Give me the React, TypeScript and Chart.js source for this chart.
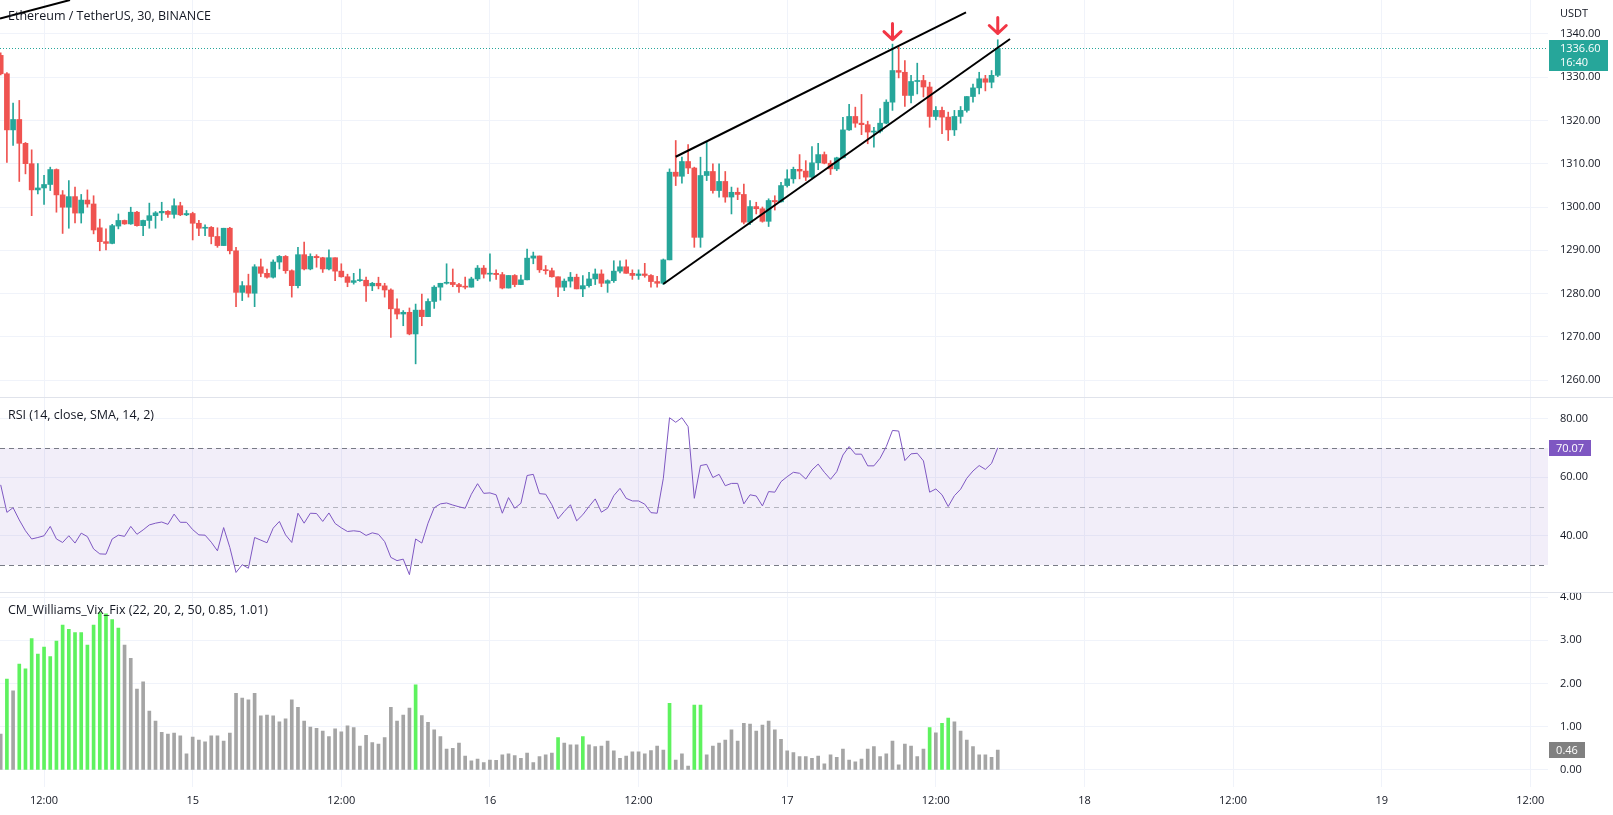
import React, { useEffect, useRef } from "react";
import { Chart, registerables } from "chart.js";

Chart.register(...registerables);

const FONT = "'Open Sans', 'Noto Sans', sans-serif";
const TEXT = "#131722";
const GRID = "#f0f3fa";
const SEP = "#e0e3eb";
const UP = "#26a69a";
const DOWN = "#ef5350";
const RSI_COLOR = "#7e57c2";
const VIX_ON = "#5ef25e";
const VIX_OFF = "#a5a5a5";
const ARROW_COLOR = "#f23645";

const TITLE = "Ethereum / TetherUS, 30, BINANCE";
const RSI_TITLE = "RSI (14, close, SMA, 14, 2)";
const VIX_TITLE = "CM_Williams_Vix_Fix (22, 20, 2, 50, 0.85, 1.01)";
const CURRENCY = "USDT";
const COUNTDOWN = "16:40";

// 30-minute bars; bar index 0 = 14th 12:00
const FIRST_BAR = -7;

const opens = [
  1335.0, 1330.75, 1317.8, 1320.2, 1314.7, 1310.0, 1303.95, 1304.4, 1305.2, 1308.65,
  1302.8, 1299.95, 1302.4, 1298.6, 1301.6, 1300.7, 1295.2, 1292.0, 1291.6, 1295.6,
  1296.9, 1296.1, 1298.8, 1295.7, 1296.9, 1298.0, 1298.65, 1299.0, 1298.3, 1300.3,
  1298.2, 1298.5, 1296.25, 1295.1, 1295.3, 1293.2, 1291.1, 1295.1, 1289.9, 1280.3,
  1281.85, 1280.1, 1286.2, 1284.7, 1283.8, 1287.3, 1288.6, 1285.3, 1281.85, 1289.0,
  1285.7, 1288.6, 1288.3, 1285.7, 1288.3, 1285.2, 1283.9, 1282.6, 1283.0, 1283.1,
  1281.8, 1282.4, 1281.8, 1280.85, 1276.5, 1275.3, 1275.7, 1270.7, 1276.2, 1274.7,
  1278.2, 1281.5, 1282.4, 1282.6, 1282.1, 1281.6, 1281.5, 1283.4, 1285.9, 1284.5,
  1284.7, 1284.4, 1281.3, 1284.2, 1282.1, 1283.2, 1288.2, 1288.7, 1285.5, 1285.3,
  1283.9, 1281.5, 1282.9, 1283.8, 1281.1, 1281.85, 1283.4, 1284.55, 1282.4, 1283.0,
  1285.2, 1286.2, 1284.7, 1284.2, 1284.55, 1284.2, 1282.8, 1282.4, 1287.8, 1308.04,
  1307.1, 1310.5, 1309.0, 1293.0, 1307.27, 1308.2, 1303.8, 1305.9, 1302.3, 1303.4,
  1302.9, 1296.5, 1300.1, 1299.6, 1296.7, 1301.5, 1301.2, 1304.95, 1306.5, 1308.7,
  1308.3, 1306.9, 1310.2, 1312.1, 1310.1, 1308.8, 1311.35, 1317.8, 1320.9, 1319.35,
  1319.0, 1317.3, 1317.5, 1319.35, 1324.2, 1331.5, 1331.1, 1325.75, 1328.97, 1329.2,
  1327.7, 1320.9, 1322.3, 1320.75, 1317.8, 1320.9, 1322.3, 1325.5, 1327.5, 1329.6,
  1328.8, 1330.4,
];

const highs = [
  1335.6, 1331.0, 1324.0, 1324.6, 1314.9, 1313.2, 1310.0, 1307.3, 1309.2, 1308.8,
  1303.8, 1306.1, 1304.6, 1302.9, 1303.95, 1302.6, 1297.2, 1294.95, 1296.0, 1298.4,
  1297.0, 1299.95, 1299.0, 1297.0, 1300.9, 1298.95, 1301.1, 1299.2, 1301.9, 1301.1,
  1299.2, 1298.8, 1296.9, 1295.9, 1295.5, 1295.2, 1295.1, 1295.3, 1290.7, 1282.8,
  1284.5, 1286.7, 1288.0, 1285.7, 1287.8, 1288.8, 1288.8, 1285.5, 1290.7, 1291.9,
  1289.2, 1289.0, 1288.4, 1290.1, 1288.3, 1286.9, 1284.5, 1284.7, 1285.7, 1283.8,
  1282.6, 1283.8, 1282.4, 1281.1, 1278.8, 1276.1, 1276.7, 1277.6, 1279.9, 1278.8,
  1281.85, 1282.4, 1286.9, 1285.7, 1282.4, 1283.8, 1283.8, 1286.5, 1286.5, 1289.2,
  1285.5, 1284.9, 1284.2, 1284.4, 1284.3, 1290.3, 1289.6, 1288.7, 1286.5, 1285.9,
  1283.9, 1283.4, 1284.9, 1284.5, 1284.2, 1284.9, 1285.7, 1285.5, 1283.2, 1287.6,
  1287.6, 1287.8, 1285.5, 1285.5, 1287.0, 1284.4, 1284.0, 1288.0, 1308.8, 1315.35,
  1311.5, 1314.4, 1309.2, 1311.5, 1314.97, 1309.96, 1309.96, 1308.2, 1304.6, 1304.4,
  1305.3, 1301.5, 1301.1, 1300.0, 1301.9, 1302.6, 1305.7, 1308.6, 1309.2, 1312.1,
  1310.7, 1313.97, 1314.7, 1312.7, 1310.7, 1311.5, 1320.7, 1323.7, 1323.05, 1325.98,
  1319.8, 1318.4, 1322.7, 1324.75, 1337.6, 1336.9, 1333.8, 1330.4, 1333.2, 1330.4,
  1328.8, 1323.2, 1323.05, 1321.9, 1322.3, 1323.2, 1325.5, 1328.4, 1331.1, 1330.4,
  1331.5, 1338.6,
];

const lows = [
  1330.5, 1310.3, 1314.2, 1305.9, 1307.65, 1298.0, 1303.0, 1300.6, 1303.8, 1298.8,
  1293.9, 1295.1, 1296.3, 1296.3, 1299.95, 1293.8, 1289.9, 1290.1, 1291.5, 1294.95,
  1296.0, 1296.0, 1295.6, 1293.4, 1295.1, 1295.1, 1296.9, 1297.6, 1297.4, 1298.0,
  1298.0, 1292.4, 1293.4, 1293.4, 1291.5, 1290.7, 1291.1, 1289.2, 1277.0, 1278.4,
  1279.2, 1277.0, 1283.9, 1283.6, 1283.6, 1285.7, 1284.7, 1279.2, 1281.3, 1285.5,
  1285.5, 1286.1, 1284.9, 1285.5, 1283.0, 1283.8, 1281.6, 1282.2, 1282.8, 1278.2,
  1280.7, 1281.1, 1279.2, 1269.9, 1274.15, 1272.6, 1270.5, 1263.8, 1272.6, 1274.7,
  1276.6, 1278.5, 1282.2, 1281.6, 1280.3, 1281.1, 1281.5, 1283.0, 1283.6, 1282.9,
  1283.3, 1281.1, 1281.3, 1281.6, 1282.1, 1283.2, 1286.9, 1284.9, 1284.5, 1283.8,
  1279.3, 1280.7, 1281.5, 1281.1, 1279.3, 1281.5, 1282.1, 1281.6, 1280.3, 1282.6,
  1284.8, 1284.7, 1283.3, 1283.3, 1283.8, 1281.5, 1281.5, 1282.1, 1287.8, 1304.95,
  1305.5, 1307.7, 1290.7, 1290.7, 1306.1, 1303.2, 1302.3, 1301.1, 1298.4, 1301.7,
  1296.1, 1295.95, 1298.4, 1296.5, 1295.5, 1299.3, 1301.1, 1304.6, 1305.5, 1306.5,
  1306.1, 1306.7, 1308.6, 1309.96, 1307.5, 1308.4, 1311.35, 1317.7, 1318.4, 1316.7,
  1314.6, 1313.8, 1317.1, 1319.2, 1322.3, 1329.8, 1323.2, 1324.0, 1326.1, 1325.4,
  1318.4, 1320.1, 1316.9, 1315.35, 1316.5, 1319.35, 1321.9, 1324.2, 1326.1, 1326.8,
  1327.5, 1330.1,
];

const closes = [
  1330.75, 1317.8, 1320.2, 1314.7, 1310.0, 1303.95, 1304.4, 1305.2, 1308.65, 1302.8,
  1299.95, 1302.4, 1298.6, 1301.6, 1300.7, 1294.7, 1292.0, 1291.6, 1295.7, 1296.9,
  1296.1, 1298.8, 1295.7, 1296.9, 1298.0, 1298.65, 1299.0, 1298.3, 1300.3, 1298.2,
  1298.5, 1296.25, 1295.1, 1295.3, 1293.2, 1291.1, 1295.1, 1289.9, 1280.3, 1281.85,
  1280.1, 1286.2, 1284.7, 1283.8, 1287.3, 1288.6, 1285.3, 1281.85, 1289.0, 1285.7,
  1288.6, 1288.3, 1285.7, 1288.3, 1285.2, 1283.9, 1282.6, 1283.0, 1283.1, 1281.8,
  1282.4, 1281.8, 1280.85, 1276.5, 1275.3, 1275.7, 1270.7, 1276.2, 1274.7, 1278.2,
  1281.5, 1282.4, 1282.6, 1282.1, 1281.6, 1281.5, 1283.4, 1285.9, 1284.5, 1284.7,
  1284.4, 1281.3, 1284.2, 1282.1, 1283.2, 1288.2, 1288.7, 1285.5, 1285.3, 1283.9,
  1281.5, 1282.9, 1283.8, 1281.1, 1281.85, 1283.4, 1284.55, 1282.4, 1283.0, 1285.2,
  1286.2, 1284.7, 1284.2, 1284.55, 1284.2, 1282.8, 1282.4, 1287.8, 1308.04, 1307.1,
  1310.5, 1309.0, 1293.0, 1307.27, 1308.2, 1303.8, 1305.9, 1302.3, 1303.4, 1302.9,
  1296.5, 1300.1, 1299.6, 1296.7, 1301.5, 1301.2, 1304.95, 1306.5, 1308.7, 1308.3,
  1306.9, 1310.2, 1312.1, 1310.1, 1308.8, 1311.35, 1317.8, 1320.9, 1319.35, 1319.0,
  1317.3, 1317.5, 1319.35, 1324.2, 1331.5, 1331.1, 1325.75, 1328.97, 1329.2, 1327.7,
  1320.9, 1322.3, 1320.75, 1317.8, 1320.9, 1322.3, 1325.5, 1327.5, 1329.6, 1328.8,
  1330.4, 1336.6,
];

const rsi = [
  57.4, 48.0, 49.6, 45.4, 41.7, 38.9, 39.4, 40.0, 43.2, 38.9,
  37.7, 40.0, 37.5, 40.9, 39.7, 35.5, 33.8, 33.7, 38.9, 40.2,
  39.8, 43.2, 40.5, 42.0, 43.7, 44.3, 44.7, 43.9, 47.4, 44.6,
  44.6, 42.1, 40.3, 40.2, 37.8, 34.85, 42.8, 36.0, 27.45, 30.1,
  28.9, 39.4, 38.5, 37.6, 42.6, 44.9, 40.3, 37.7, 47.7, 44.3,
  47.7, 47.6, 44.9, 47.8, 44.2, 42.7, 41.45, 41.7, 41.45, 40.1,
  41.0, 40.5, 38.0, 32.6, 31.5, 32.0, 26.7, 38.9, 37.5, 44.3,
  49.6, 50.9, 51.2, 50.5, 49.9, 49.4, 54.2, 57.8, 54.5, 54.65,
  54.0, 47.7, 53.05, 49.4, 51.1, 60.6, 61.0, 54.4, 54.2, 50.6,
  45.8, 48.3, 50.6, 45.1, 47.2, 50.0, 52.6, 48.05, 49.4, 53.7,
  56.2, 52.8, 51.9, 51.9, 50.8, 47.9, 47.7, 59.65, 80.35, 78.8,
  80.35, 77.3, 52.8, 64.0, 64.4, 59.9, 61.0, 57.1, 57.9, 57.9,
  50.9, 54.0, 53.6, 50.2, 55.1, 54.9, 58.5, 60.2, 61.7, 61.35,
  59.4, 62.5, 64.5, 61.7, 59.3, 61.9, 67.6, 70.5, 67.9, 67.9,
  63.9, 63.9, 66.5, 70.5, 76.0, 75.8, 65.7, 68.0, 68.2, 65.6,
  54.9, 56.0, 54.0, 50.0, 53.7, 55.9, 59.65, 62.15, 64.0, 62.7,
  64.75, 70.07,
];

const vix = [
  0.83, 2.10, 1.83, 2.45, 2.34, 3.04, 2.68, 2.84, 2.62, 2.98,
  3.35, 3.25, 3.18, 3.18, 2.89, 3.35, 3.64, 3.61, 3.48, 3.28,
  2.89, 2.58, 1.87, 2.04, 1.36, 1.13, 0.87, 0.83, 0.85, 0.79,
  0.37, 0.76, 0.69, 0.65, 0.79, 0.79, 0.67, 0.85, 1.77, 1.66,
  1.62, 1.77, 1.25, 1.27, 1.25, 1.11, 1.18, 1.62, 1.45, 1.13,
  0.99, 0.96, 0.90, 0.77, 0.95, 0.88, 1.02, 0.98, 0.55, 0.80,
  0.63, 0.60, 0.75, 1.45, 1.13, 1.27, 1.43, 1.97, 1.26, 1.10,
  0.93, 0.77, 0.48, 0.50, 0.62, 0.32, 0.21, 0.25, 0.17, 0.23,
  0.22, 0.35, 0.37, 0.33, 0.27, 0.39, 0.17, 0.31, 0.35, 0.39,
  0.75, 0.62, 0.58, 0.58, 0.77, 0.58, 0.54, 0.55, 0.67, 0.44,
  0.27, 0.32, 0.42, 0.42, 0.37, 0.45, 0.55, 0.46, 1.54, 0.23,
  0.37, 0.09, 1.50, 1.50, 0.35, 0.55, 0.62, 0.69, 0.93, 0.67,
  1.08, 1.06, 0.90, 1.04, 1.13, 0.93, 0.71, 0.44, 0.40, 0.31,
  0.31, 0.27, 0.32, 0.14, 0.35, 0.29, 0.48, 0.23, 0.19, 0.25,
  0.48, 0.54, 0.31, 0.37, 0.67, 0.12, 0.60, 0.55, 0.31, 0.48,
  0.98, 0.86, 1.08, 1.20, 1.11, 0.90, 0.69, 0.54, 0.35, 0.35,
  0.29, 0.46,
];

// bars where the Vix Fix signal is on (lime)
const vixSignalBars = [-6, -4, -3, -2, -1, 0, 1, 2, 3, 4, 5, 6, 7, 8, 9, 10, 11, 12, 60, 83, 87, 101, 105, 106, 143, 145, 146];

const X_RANGE = [-7.113, 242.85];
const X_TICKS = [0, 24, 48, 72, 96, 120, 144, 168, 192, 216, 240];
const X_LABELS = ["12:00", "15", "12:00", "16", "12:00", "17", "12:00", "18", "12:00", "19", "12:00"];

const PRICE_RANGE = [1256.15, 1347.78];
const PRICE_TICKS = [1260, 1270, 1280, 1290, 1300, 1310, 1320, 1330, 1340];
const RSI_RANGE = [20.77, 87.44];
const RSI_TICKS = [40, 60, 80];
const RSI_LEVELS = [70, 50, 30];
const VIX_RANGE = [-0.39, 4.116];
const VIX_TICKS = [0, 1, 2, 3, 4];

// drawn trend lines: [barIndex, price] pairs
const TREND_LINES = [
  [[-7.11, 1343.5], [4.19, 1347.78]],
  [[102.0, 1311.6], [148.87, 1344.94]],
  [[99.99, 1282.23], [155.98, 1338.78]],
];
// arrow markers: [barIndex, price of arrow tip]
const ARROWS = [[137, 1338.3], [154, 1339.7]];

function noPadding(s: any) {
  s.paddingTop = 0;
  s.paddingBottom = 0;
  s.paddingLeft = 0;
  s.paddingRight = 0;
}

function xScale(showLabels: boolean): any {
  return {
    type: "linear",
    min: X_RANGE[0],
    max: X_RANGE[1],
    offset: false,
    bounds: "data",
    afterBuildTicks: (s: any) => {
      s.ticks = X_TICKS.map((v) => ({ value: v }));
    },
    afterFit: noPadding,
    grid: { color: GRID, drawTicks: false, offset: false },
    border: { display: false },
    ticks: {
      display: showLabels,
      padding: 7,
      color: TEXT,
      font: { family: FONT, size: 11 },
      maxRotation: 0,
      autoSkip: false,
      callback: (_v: any, i: number) => X_LABELS[i],
    },
  };
}

function yScale(range: number[], ticks: number[]): any {
  return {
    type: "linear",
    position: "right",
    min: range[0],
    max: range[1],
    bounds: "data",
    afterBuildTicks: (s: any) => {
      s.ticks = ticks.map((v) => ({ value: v }));
    },
    afterFit: (s: any) => {
      s.width = 65;
      noPadding(s);
    },
    grid: { color: GRID, drawTicks: false },
    border: { display: false },
    ticks: {
      padding: 12,
      color: TEXT,
      font: { family: FONT, size: 11 },
      callback: (v: any) => Number(v).toFixed(2),
    },
  };
}

const common: any = {
  responsive: false,
  animation: false,
  events: [],
  plugins: { legend: { display: false }, tooltip: { enabled: false } },
};

function valueTag(ctx: any, text: string, x0: number, y: number, bg: string) {
  ctx.save();
  ctx.font = `11px ${FONT}`;
  const w = Math.round(ctx.measureText(text).width) + 14;
  ctx.fillStyle = bg;
  ctx.fillRect(x0, Math.round(y) - 8, w, 16);
  ctx.fillStyle = "#ffffff";
  ctx.textAlign = "center";
  ctx.textBaseline = "middle";
  ctx.fillText(text, x0 + w / 2, Math.round(y) + 0.5);
  ctx.restore();
}

const pricePlugin: any = {
  id: "priceDecor",
  beforeDatasetsDraw(chart: any) {
    const { ctx, chartArea: a, scales } = chart;
    const last = closes[closes.length - 1];
    const py = Math.round(scales.y.getPixelForValue(last)) + 0.5;
    ctx.save();
    ctx.strokeStyle = UP;
    ctx.lineWidth = 1;
    ctx.setLineDash([1, 2]);
    ctx.beginPath();
    ctx.moveTo(a.left, py);
    ctx.lineTo(a.right, py);
    ctx.stroke();
    ctx.restore();
  },
  afterDatasetsDraw(chart: any) {
    const { ctx, scales } = chart;
    ctx.save();
    ctx.strokeStyle = ARROW_COLOR;
    ctx.lineWidth = 3;
    ctx.lineCap = "round";
    ctx.lineJoin = "round";
    for (const [k, p] of ARROWS) {
      const x = scales.x.getPixelForValue(k);
      const yt = scales.y.getPixelForValue(p) - 1.5;
      ctx.beginPath();
      ctx.moveTo(x, yt - 16);
      ctx.lineTo(x, yt);
      ctx.moveTo(x - 8.5, yt - 8);
      ctx.lineTo(x, yt);
      ctx.lineTo(x + 8.5, yt - 8);
      ctx.stroke();
    }
    ctx.restore();
  },
  afterDraw(chart: any) {
    const { ctx, chartArea: a, scales } = chart;
    const last = closes[closes.length - 1];
    const py = scales.y.getPixelForValue(last);
    const x0 = a.right + 1;
    ctx.save();
    ctx.fillStyle = UP;
    ctx.fillRect(x0, Math.round(py) - 8, 59, 31);
    ctx.fillStyle = "#ffffff";
    ctx.font = `11px ${FONT}`;
    ctx.textAlign = "left";
    ctx.textBaseline = "middle";
    ctx.fillText(last.toFixed(2), x0 + 11, py + 0.5);
    ctx.fillText(COUNTDOWN, x0 + 11, py + 14);
    ctx.fillStyle = TEXT;
    ctx.fillText(CURRENCY, x0 + 11, 13.5);
    ctx.restore();
  },
};

const rsiPlugin: any = {
  id: "rsiDecor",
  beforeDatasetsDraw(chart: any) {
    const { ctx, chartArea: a, scales } = chart;
    const yTop = scales.y.getPixelForValue(RSI_LEVELS[0]);
    const yMid = scales.y.getPixelForValue(RSI_LEVELS[1]);
    const yBot = scales.y.getPixelForValue(RSI_LEVELS[2]);
    ctx.save();
    ctx.fillStyle = "rgba(126, 87, 194, 0.1)";
    ctx.fillRect(a.left, yTop, a.right - a.left, yBot - yTop);
    ctx.lineWidth = 1;
    ctx.setLineDash([5, 4]);
    const line = (y: number, color: string) => {
      ctx.strokeStyle = color;
      ctx.beginPath();
      ctx.moveTo(a.left, Math.round(y) + 0.5);
      ctx.lineTo(a.right, Math.round(y) + 0.5);
      ctx.stroke();
    };
    line(yTop, "#787b86");
    line(yMid, "rgba(120, 123, 134, 0.5)");
    line(yBot, "#787b86");
    ctx.restore();
  },
  afterDraw(chart: any) {
    const { ctx, chartArea: a, scales } = chart;
    const last = rsi[rsi.length - 1];
    valueTag(ctx, last.toFixed(2), a.right + 1, scales.y.getPixelForValue(last), RSI_COLOR);
  },
};

const vixPlugin: any = {
  id: "vixDecor",
  afterDraw(chart: any) {
    const { ctx, chartArea: a, scales } = chart;
    const last = vix[vix.length - 1];
    valueTag(ctx, last.toFixed(2), a.right + 1, scales.y.getPixelForValue(last), "#808080");
  },
};

export default function App() {
  const priceRef = useRef<HTMLCanvasElement>(null);
  const rsiRef = useRef<HTMLCanvasElement>(null);
  const vixRef = useRef<HTMLCanvasElement>(null);

  useEffect(() => {
    Chart.defaults.font.family = FONT;
    const bars = closes.map((_, i) => FIRST_BAR + i);
    const candleColors = closes.map((c, i) => (c >= opens[i] ? UP : DOWN));

    const price = new Chart(priceRef.current as HTMLCanvasElement, {
      type: "bar",
      data: {
        datasets: [
          ...TREND_LINES.map((seg) => ({
            type: "line",
            data: seg.map(([x, y]) => ({ x, y })),
            borderColor: "#000000",
            borderWidth: 2,
            pointRadius: 0,
            order: 0,
          })),
          {
            type: "bar",
            data: bars.map((x, i) => ({ x, y: [Math.min(opens[i], closes[i]), Math.max(opens[i], closes[i])] })),
            backgroundColor: candleColors,
            barThickness: 5,
            grouped: false,
            minBarLength: 1,
            borderSkipped: false,
            order: 1,
          },
          {
            type: "bar",
            data: bars.map((x, i) => ({ x, y: [lows[i], highs[i]] })),
            backgroundColor: candleColors,
            barThickness: 1,
            grouped: false,
            borderSkipped: false,
            order: 2,
          },
        ] as any,
      },
      options: { ...common, scales: { x: xScale(false), y: yScale(PRICE_RANGE, PRICE_TICKS) } },
      plugins: [pricePlugin],
    } as any);

    const rsiChart = new Chart(rsiRef.current as HTMLCanvasElement, {
      type: "line",
      data: {
        datasets: [
          {
            data: bars.map((x, i) => ({ x, y: rsi[i] })),
            borderColor: RSI_COLOR,
            borderWidth: 1,
            pointRadius: 0,
            tension: 0,
          },
        ],
      },
      options: { ...common, scales: { x: xScale(false), y: yScale(RSI_RANGE, RSI_TICKS) } },
      plugins: [rsiPlugin],
    } as any);

    const vixChart = new Chart(vixRef.current as HTMLCanvasElement, {
      type: "bar",
      data: {
        datasets: [
          {
            data: bars.map((x, i) => ({ x, y: vix[i] })),
            backgroundColor: bars.map((x) => (vixSignalBars.includes(x) ? VIX_ON : VIX_OFF)),
            barThickness: 3,
            grouped: false,
            borderSkipped: false,
          },
        ],
      },
      options: {
        ...common,
        layout: { padding: { bottom: 1 } },
        scales: { x: xScale(true), y: yScale(VIX_RANGE, VIX_TICKS) },
      },
      plugins: [vixPlugin],
    } as any);

    return () => {
      price.destroy();
      rsiChart.destroy();
      vixChart.destroy();
    };
  }, []);

  const legend = (text: string, top: number): any => (
    <div
      style={{
        position: "absolute",
        left: 8,
        top,
        fontSize: 12.5,
        lineHeight: "18px",
        color: TEXT,
        fontFamily: FONT,
        whiteSpace: "nowrap",
        pointerEvents: "none",
      }}
    >
      {text}
    </div>
  );

  return (
    <div
      style={{
        position: "absolute",
        left: 0,
        top: 0,
        width: 1613,
        height: 815,
        background: "#ffffff",
        overflow: "hidden",
      }}
    >
      <canvas ref={priceRef} width={1613} height={397} style={{ position: "absolute", left: 0, top: 0 }} />
      <canvas ref={rsiRef} width={1613} height={195} style={{ position: "absolute", left: 0, top: 397 }} />
      <canvas ref={vixRef} width={1613} height={223} style={{ position: "absolute", left: 0, top: 592 }} />
      <div style={{ position: "absolute", left: 0, top: 397, width: 1613, height: 1, background: SEP }} />
      <div style={{ position: "absolute", left: 0, top: 592, width: 1613, height: 1, background: SEP }} />
      {legend(TITLE, 7)}
      {legend(RSI_TITLE, 406)}
      {legend(VIX_TITLE, 601)}
    </div>
  );
}
